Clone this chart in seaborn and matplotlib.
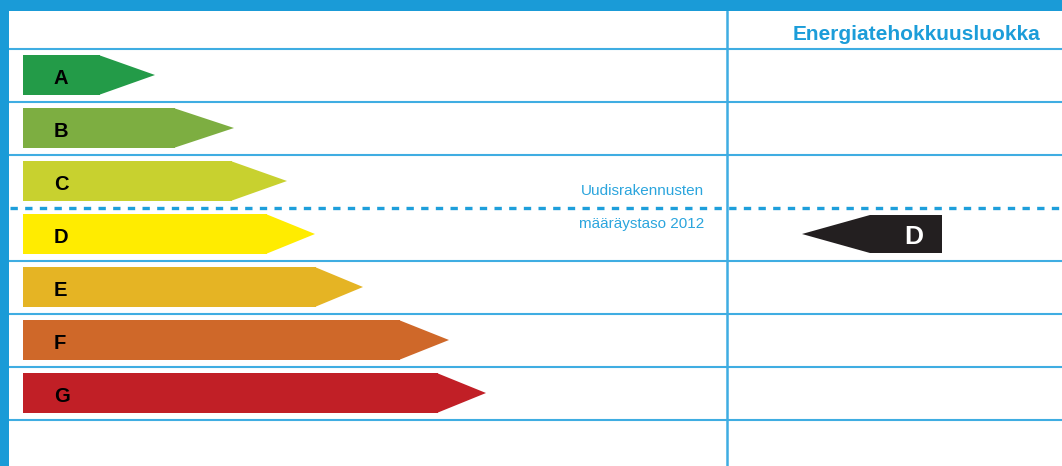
import matplotlib
matplotlib.use("Agg")
import matplotlib.pyplot as plt
from matplotlib.patches import Polygon, Rectangle
import pandas as pd
import seaborn as sns

# energy classes and arrow sizes (pixels measured from the left edge of the bars)
classes = ["A", "B", "C", "D", "E", "F", "G"]
body_lengths = [77, 152, 209, 244, 293, 377, 415]
arrow_ends = [132, 211, 264, 292, 340, 426, 463]
class_colors = ["#239B48", "#7DAE41", "#C8D12F", "#FFEC00",
                "#E5B424", "#CF6829", "#C11F26"]

rating = "D"
rating_tip = 779
rating_body_start = 847
rating_end = 919

header = "Energiatehokkuusluokka"
regulation_label = ["Uudisrakennusten", "määräystaso 2012"]
regulation_after = "C"  # dashed line sits below this class

BLUE = "#1A9BD7"
LINE_BLUE = "#3FADE2"

sns.set_style("white")
plt.rcParams["font.family"] = ["Liberation Sans", "DejaVu Sans"]

W, H = 1062, 466
fig = plt.figure(figsize=(W / 100, H / 100), dpi=100)
ax = fig.add_axes([0, 0, 1, 1])

df = pd.DataFrame({"cls": classes, "length": body_lengths})
bar_h = 0.736
sns.barplot(data=df, x="length", y="cls", hue="cls", palette=class_colors,
            saturation=1, orient="h", width=bar_h, linewidth=0, legend=False, ax=ax)

# arrow heads
for i, (body, end, col) in enumerate(zip(body_lengths, arrow_ends, class_colors)):
    ax.add_patch(Polygon([(body, i - bar_h / 2), (end, i), (body, i + bar_h / 2)],
                         closed=True, facecolor=col, edgecolor="none"))
    ax.text(31, i + 0.06, classes[i], ha="left", va="center",
            fontsize=14.5, fontweight="bold", color="black")

# pixel-like coordinate frame: x offset 23 px, rows 53 px apart with A centred at 75 px
row_px, first_px, left_px = 53, 75, 23
ax.set_xlim(-left_px, W - left_px)
ax.set_ylim((H - first_px) / row_px, -first_px / row_px)
ax.axis("off")

x0, x1 = 9 - left_px, W - left_px
dash_pos = classes.index(regulation_after) + 0.5
for b in [i - 0.5 for i in range(len(classes) + 1)]:
    if b == dash_pos:
        continue
    ax.plot([x0, x1], [b, b], color=LINE_BLUE, lw=1.5, solid_capstyle="butt")
ax.plot([x0 + 1, x1], [dash_pos, dash_pos], color="#1E9FDB", lw=2.4,
        linestyle=(0, (2.2, 2.2)))

# column divider
ax.plot([704, 704], [-64 / row_px, (H - first_px) / row_px], color=LINE_BLUE, lw=1.8)

# rating arrow
ri = classes.index(rating)
ax.add_patch(Polygon([(rating_tip, ri), (rating_body_start, ri - 0.717 / 2),
                      (rating_end, ri - 0.717 / 2), (rating_end, ri + 0.717 / 2),
                      (rating_body_start, ri + 0.717 / 2)],
                     closed=True, facecolor="#231F20", edgecolor="none"))
ax.text((rating_body_start + rating_end) / 2 + 8, ri + 0.06, rating, ha="center",
        va="center", fontsize=19, fontweight="bold", color="white")

# texts
ax.text(W - left_px - 22, -41 / row_px, header, ha="right", va="center",
        fontsize=15, fontweight="bold", color="#1C9DD9")
ax.text(681, dash_pos - 0.31, regulation_label[0], ha="right", va="center",
        fontsize=11, color="#2BA5DD")
ax.text(681, dash_pos + 0.31, regulation_label[1], ha="right", va="center",
        fontsize=11, color="#2BA5DD")

# blue frame on top and left
fig.patches.append(Rectangle((0, 1 - 11 / H), 1, 11 / H, transform=fig.transFigure,
                             facecolor=BLUE, edgecolor="none", zorder=5))
fig.patches.append(Rectangle((0, 0), 9 / W, 1, transform=fig.transFigure,
                             facecolor=BLUE, edgecolor="none", zorder=5))

fig.savefig("out.png", dpi=100, facecolor="white")
